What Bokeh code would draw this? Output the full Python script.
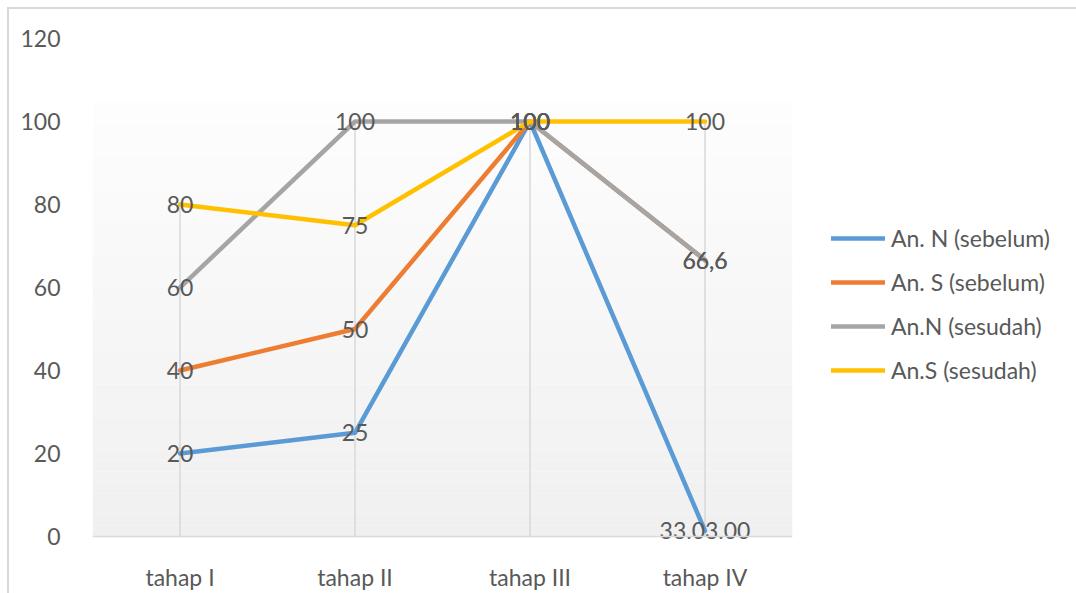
from bokeh.plotting import figure
from bokeh.models import FactorRange, Range1d, Legend, LegendItem, Span
from bokeh.core.properties import value
from bokeh.embed import file_html
from bokeh.resources import INLINE

# ---- data ----
categories = ["tahap I", "tahap II", "tahap III", "tahap IV"]
series_names = ["An. N (sebelum)", "An. S (sebelum)", "An.N (sesudah)", "An.S (sesudah)"]
an_n_sebelum = [20, 25, 100, 1.38]
an_s_sebelum = [40, 50, 100, 66.6]
an_n_sesudah = [60, 100, 100, 66.6]
an_s_sesudah = [80, 75, 100, 100]
labels_an_n_sebelum = ["20", "25", "100", "33.03.00"]
labels_an_s_sebelum = ["40", "50", "100", "66,6"]
labels_an_n_sesudah = ["60", "100", "100", "66,6"]
labels_an_s_sesudah = ["80", "75", "100", "100"]
y_ticks = [0, 20, 40, 60, 80, 100, 120]

series_values = [an_n_sebelum, an_s_sebelum, an_n_sesudah, an_s_sesudah]
series_labels = [labels_an_n_sebelum, labels_an_s_sebelum, labels_an_n_sesudah, labels_an_s_sesudah]
colors = ["#5B9BD5", "#ED7D31", "#A5A5A5", "#FFC000"]

FONT = "Lato"
TXT = "#595959"
FS = "23px"

p = figure(x_range=FactorRange(*categories, range_padding=0, factor_padding=0),
           y_range=Range1d(-2.4, 120),
           frame_width=700, frame_height=508,
           min_border_left=83, min_border_right=280, min_border_top=29, min_border_bottom=47,
           output_backend="svg", toolbar_location=None)
p.styles = {"border-top": "2px solid #d9d9d9", "border-left": "2px solid #d9d9d9",
            "border-right": "2px solid #d9d9d9", "margin-left": "7px", "margin-top": "7px"}

p.xgrid.visible = False
p.ygrid.visible = False
p.outline_line_color = None
p.background_fill_color = "white"
p.border_fill_color = "white"

# plot-area gradient (decorative)
n = 40
top_val = 104.6
bots = [top_val * i / n for i in range(n)]
tops = [top_val * (i + 1) / n for i in range(n)]
cols = []
for i in range(n):
    t = i / (n - 1)
    c = int(round(0xF0 + (0xFD - 0xF0) * t))
    cols.append("#%02x%02x%02x" % (c, c, c))
p.quad(left=0, right=4, bottom=bots, top=tops, fill_color=cols, line_color=None)

# category axis line at zero
p.add_layout(Span(location=0, dimension="width", line_color="#d9d9d9", line_width=1.5))

# drop lines
drop_top = [max(v[i] for v in series_values) for i in range(len(categories))]
p.segment(x0=categories, y0=[0] * 4, x1=categories, y1=drop_top,
          line_color="#d9d9d9", line_width=1.5)

# axes
p.yaxis.ticker = y_ticks
p.yaxis.axis_line_color = None
p.yaxis.major_tick_line_color = None
p.yaxis.minor_tick_line_color = None
p.yaxis.major_label_text_font = FONT
p.yaxis.major_label_text_font_size = FS
p.yaxis.major_label_text_color = TXT
p.yaxis.major_label_standoff = 26

p.xaxis.axis_line_color = None
p.xaxis.major_tick_line_color = None
p.xaxis.minor_tick_line_color = None
p.xaxis.major_label_text_font = FONT
p.xaxis.major_label_text_font_size = FS
p.xaxis.major_label_text_color = TXT
p.xaxis.major_label_standoff = 10

items = []
for name, vals, col in zip(series_names, series_values, colors):
    r = p.line(x=categories, y=vals, line_color=col, line_width=4.5,
               line_join="round", line_cap="round")
    items.append(LegendItem(label=name, renderers=[r]))

for vals, labs in zip(series_values, series_labels):
    p.text(x=categories, y=vals, text=labs, text_align="center", text_baseline="middle",
           text_font=value(FONT), text_font_size=FS, text_color=TXT)

legend = Legend(items=items, location=(39, 161), padding=0, margin=0,
                glyph_width=54, glyph_height=30, label_height=30, spacing=14,
                label_standoff=6, label_text_font=FONT, label_text_font_size=FS,
                label_text_color=TXT, background_fill_alpha=0, border_line_color=None)
p.add_layout(legend, "right")

open("out.html", "w").write(file_html(p, INLINE))
